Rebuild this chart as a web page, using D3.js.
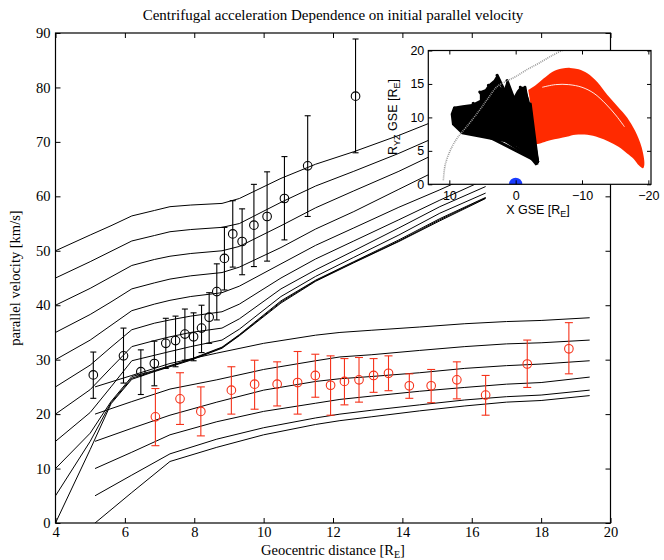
<!DOCTYPE html>
<meta charset="utf-8">
<style>
body { margin: 0; background: #fff; }
svg { display: block; }
.main .tick text { font-family: "Liberation Serif", serif; font-size: 14.5px; fill: #000; }
.main .tick line, .inset .tick line { stroke: #000; }
.inset .tick text { font-family: "Liberation Sans", sans-serif; font-size: 12.5px; fill: #000; }
.domain { display: none; }
.title, .label { font-family: "Liberation Serif", serif; font-size: 15px; fill: #000; }
.label { font-size: 14.5px; }
.ilabel { font-family: "Liberation Sans", sans-serif; font-size: 12.5px; fill: #000; }
</style>
<svg width="664" height="560"></svg>
<script src="https://d3js.org/d3.v7.min.js"></script>
<script>
// model curves, upper family (start 0..50 km/s at 4 RE), shared x grid
var gridX = [4, 5, 5.6, 6.2, 6.85, 7.3, 7.9, 8.8, 9.3, 10.5, 11.5, 12.6, 13.9, 15.08, 16.4];
var upper0  = [0, 13.5, 21.9, 26.4, 27.8, 28.7, 29.9, 32.1, 34.4, 40.4, 44.4, 47.8, 51.7, 55.5, 59.6];
var upper5  = [5, 15.0, 22.1, 26.6, 27.9, 28.8, 30.0, 32.2, 34.5, 40.6, 44.5, 47.9, 51.8, 55.7, 59.7];
var upper10 = [10, 16.5, 22.3, 26.9, 28.0, 28.9, 30.1, 32.3, 34.6, 40.8, 44.6, 48.0, 52.0, 55.9, 59.8];
var upper15 = [15, 20.3, 25.0, 29.8, 30.8, 31.5, 32.4, 33.6, 35.6, 41.6, 45.3, 48.8, 52.9, 56.9, 60.6];
var upper20 = [20, 24.5, 28.5, 32.4, 33.5, 34.2, 35.0, 35.8, 37.5, 43.0, 46.5, 50.0, 54.2, 58.1, 61.8];
var upper25 = [25, 29.0, 32.3, 35.5, 36.7, 37.3, 38.0, 38.8, 40.2, 45.0, 48.5, 51.8, 55.7, 59.3, 63.1];
var upper30 = [30, 33.6, 36.3, 39.0, 40.2, 40.9, 41.6, 42.3, 43.5, 47.6, 51.0, 54.2, 58.0, 61.2, 65.0];
var upper35 = [35, 38.3, 40.6, 43.0, 44.1, 44.8, 45.4, 46.0, 47.0, 50.6, 54.0, 57.2, 61.3, 65.0, 68.8];
var upper40 = [40, 43.1, 45.2, 47.3, 48.4, 49.0, 49.5, 50.0, 50.8, 54.6, 57.9, 61.0, 64.6, 68.2, 72.0];
var upper45 = [45, 48.0, 49.9, 51.8, 52.8, 53.5, 53.9, 54.3, 55.0, 58.9, 61.9, 64.6, 67.9, 71.2, 75.0];
var upper50 = [50, 52.9, 54.6, 56.4, 57.4, 58.1, 58.4, 58.7, 59.6, 63.3, 65.9, 68.2, 71.2, 74.2, 78.0];

// model curves, lower family (start 0..25 km/s at 5.14 RE)
var lowerX  = [5.14, 6.2, 7.3, 8.65, 10.0, 11.5, 12.2, 13.1, 14.5, 15.8, 17.0, 18.0, 19.4];
var lower0  = [0, 5.6, 11.3, 13.9, 16.2, 18.1, 18.8, 19.5, 20.6, 21.5, 22.2, 22.5, 23.4];
var lower5  = [5, 8.8, 12.7, 15.4, 17.5, 19.3, 20.0, 20.7, 21.7, 22.6, 23.2, 23.5, 24.4];
var lower10 = [10, 13.0, 16.2, 18.6, 20.5, 22.0, 22.7, 23.3, 24.2, 24.9, 25.5, 25.8, 26.8];
var lower15 = [15, 17.4, 19.8, 22.2, 24.4, 26.0, 26.5, 26.9, 27.6, 28.4, 28.9, 29.2, 29.8];
var lower20 = [20, 22.3, 24.6, 26.3, 28.2, 29.8, 30.5, 30.9, 31.7, 32.4, 32.9, 33.1, 33.6];
var lower25 = [25, 27.1, 29.3, 31.2, 33.0, 34.5, 35.0, 35.4, 36.0, 36.6, 37.0, 37.2, 37.7];

// observations, black (with error bars)
var blackX  = [5.09, 5.96, 6.46, 6.85, 7.18, 7.46, 7.73, 7.98, 8.21, 8.43, 8.65, 8.87, 9.11, 9.38, 9.72, 10.1, 10.6, 11.27, 12.65];
var blackY  = [27.2, 30.7, 27.8, 29.3, 33.0, 33.5, 34.7, 34.2, 35.8, 37.8, 42.5, 48.6, 53.1, 51.7, 54.7, 56.3, 59.6, 65.6, 78.4];
var blackLo = [22.9, 25.7, 23.6, 25.2, 28.4, 28.7, 29.9, 29.8, 31.3, 33.0, 37.3, 42.8, 47.0, 45.6, 47.1, 48.1, 52.0, 56.3, 68.0];
var blackHi = [31.4, 35.8, 31.8, 33.4, 37.6, 38.0, 39.3, 38.6, 40.0, 42.3, 47.6, 54.3, 59.2, 57.7, 62.2, 64.5, 67.3, 74.8, 88.9];

// observations, red
var redX  = [6.88, 7.59, 8.19, 9.07, 9.74, 10.39, 10.98, 11.49, 11.93, 12.33, 12.75, 13.17, 13.6, 14.2, 14.83, 15.57, 16.4, 17.6, 18.8];
var redY  = [19.5, 22.8, 20.5, 24.4, 25.5, 25.5, 25.8, 27.1, 25.3, 26.0, 26.3, 27.1, 27.5, 25.2, 25.2, 26.3, 23.5, 29.2, 32.0];
var redLo = [14.2, 18.1, 16.0, 20.0, 20.9, 21.5, 20.0, 23.1, 19.8, 21.7, 22.2, 24.0, 24.3, 22.9, 22.1, 22.8, 19.8, 24.9, 27.4];
var redHi = [24.7, 27.6, 25.0, 28.7, 29.9, 29.6, 31.5, 31.0, 30.7, 30.2, 30.4, 30.2, 30.7, 27.4, 28.2, 29.6, 27.1, 33.6, 36.8];

var xTicks = [4, 6, 8, 10, 12, 14, 16, 18, 20];
var yTicks = [0, 10, 20, 30, 40, 50, 60, 70, 80, 90];

// inset: X GSE vs R_YZ GSE
var insetXTicks = [10, 0, -10, -20];
var insetYTicks = [0, 5, 10, 15, 20];
var boundary = [[10.9, 0.6], [10.6, 3.0], [9.6, 5.6], [8.6, 7.2], [7.4, 8.6], [5.5, 11.0], [4.2, 12.8], [2.8, 14.6], [1.2, 15.5], [0, 16.1], [-1.8, 17.2], [-3.5, 18.1], [-5.4, 19.2], [-7.2, 20.1]];
var blackFan = [[9.4, 11.6], [8.0, 11.8], [6.6, 12.0], [5.4, 12.6], [5.4, 13.9], [4.6, 14.2], [4.1, 14.9], [3.3, 15.6], [2.8, 16.4], [2.4, 15.8], [2.3, 14.4], [1.7, 14.4], [1.3, 15.6], [0.8, 14.5], [0.3, 13.1], [-0.2, 14.0], [-0.7, 14.6], [-1.4, 14.6], [-2.0, 12.8], [-2.45, 11.1], [-2.7, 8.1], [-3.1, 5.0], [-3.45, 3.0], [-3.0, 2.8], [-2.0, 4.0], [-0.2, 5.6], [1.5, 6.3], [3.35, 6.6], [5.5, 7.0], [8.1, 7.5], [9.6, 8.9], [9.8, 10.5]];
var fanTips = [[9.2, 11.4], [8.6, 9.4], [6.4, 12.1], [5.4, 13.8], [4.1, 14.8], [2.8, 16.3], [2.3, 14.3], [1.3, 15.5], [0.3, 13.0], [-0.7, 14.5], [-1.4, 14.5], [-2.2, 12.0]];
var fanBase = [-3.3, 3.4];
var redRegion = [[-1.9, 14.1], [-3.0, 14.8], [-4.2, 15.8], [-5.5, 16.8], [-7.0, 17.3], [-8.2, 17.4], [-9.5, 17.2], [-10.8, 16.6], [-12.3, 15.3], [-13.8, 13.4], [-15.4, 11.6], [-16.8, 10.0], [-18.0, 8.0], [-19.0, 5.5], [-19.4, 3.0], [-19.2, 2.4], [-18.6, 2.8], [-17.8, 3.8], [-16.8, 4.6], [-15.5, 5.6], [-14.0, 6.4], [-12.5, 7.0], [-10.8, 7.4], [-9.0, 7.4], [-7.7, 7.1], [-5.2, 6.6], [-2.7, 6.1], [-2.5, 9.0], [-2.45, 10.6]];
var redGap = [[-4.0, 14.5], [-6.0, 14.9], [-8.0, 14.9], [-10.0, 14.5], [-11.8, 13.6], [-13.6, 12.0], [-15.2, 10.2], [-16.4, 8.6]];

var svg = d3.select("svg");
var x = d3.scaleLinear().domain([4, 20]).range([55.5, 610.5]);
var y = d3.scaleLinear().domain([0, 90]).range([523, 33]);

svg.append("clipPath").attr("id", "plotclip").append("rect")
  .attr("x", x(4)).attr("y", y(90)).attr("width", x(20) - x(4)).attr("height", y(0) - y(90));

var line = d3.line().x(d => x(d[0])).y(d => y(d[1]));
var curves = svg.append("g").attr("clip-path", "url(#plotclip)")
  .attr("fill", "none").attr("stroke", "#000").attr("stroke-width", 1);

[upper0, upper5, upper10, upper15, upper20, upper25, upper30, upper35, upper40, upper45, upper50].forEach(function(v) {
  curves.append("path").attr("d", line(gridX.map((g, i) => [g, v[i]])));
});
[lower0, lower5, lower10, lower15, lower20, lower25].forEach(function(v) {
  curves.append("path").attr("d", line(lowerX.map((g, i) => [g, v[i]])));
});

function errorBars(xs, ys, lo, hi, color, cap) {
  var g = svg.append("g").attr("stroke", color).attr("fill", "none").attr("stroke-width", 1.1);
  xs.forEach(function(xv, i) {
    var px = x(xv);
    g.append("line").attr("x1", px).attr("x2", px).attr("y1", y(lo[i])).attr("y2", y(hi[i]));
    g.append("line").attr("x1", px - cap).attr("x2", px + cap).attr("y1", y(lo[i])).attr("y2", y(lo[i]));
    g.append("line").attr("x1", px - cap).attr("x2", px + cap).attr("y1", y(hi[i])).attr("y2", y(hi[i]));
    g.append("circle").attr("cx", px).attr("cy", y(ys[i])).attr("r", 4.3);
  });
}
errorBars(blackX, blackY, blackLo, blackHi, "#000", 3);
errorBars(redX, redY, redLo, redHi, "#f5321a", 4);

// axes with inward ticks on all four sides
var axes = svg.append("g").attr("class", "main");
axes.append("g").attr("transform", "translate(0," + y(0) + ")")
  .call(d3.axisBottom(x).tickValues(xTicks).tickSize(-5).tickSizeOuter(0).tickPadding(4));
axes.append("g").attr("transform", "translate(0," + y(90) + ")")
  .call(d3.axisTop(x).tickValues(xTicks).tickSize(-5).tickSizeOuter(0).tickFormat(""));
axes.append("g").attr("transform", "translate(" + x(4) + ",0)")
  .call(d3.axisLeft(y).tickValues(yTicks).tickSize(-5).tickSizeOuter(0).tickPadding(5));
axes.append("g").attr("transform", "translate(" + x(20) + ",0)")
  .call(d3.axisRight(y).tickValues(yTicks).tickSize(-5).tickSizeOuter(0).tickFormat(""));
svg.append("rect").attr("x", x(4)).attr("y", y(90)).attr("width", x(20) - x(4)).attr("height", y(0) - y(90))
  .attr("fill", "none").attr("stroke", "#000").attr("stroke-width", 1.2);

svg.append("text").attr("class", "title").attr("x", 333).attr("y", 20).attr("text-anchor", "middle")
  .text("Centrifugal acceleration Dependence on initial parallel velocity");
svg.append("text").attr("class", "label").attr("transform", "translate(20,278) rotate(-90)")
  .attr("text-anchor", "middle").text("parallel velocity [km/s]");
var xl = svg.append("text").attr("class", "label").attr("x", 333).attr("y", 555).attr("text-anchor", "middle");
xl.append("tspan").text("Geocentric distance [R");
xl.append("tspan").attr("font-size", "10px").attr("dy", 3).text("E");
xl.append("tspan").attr("dy", -3).text("]");

// ---- inset ----
var ix = d3.scaleLinear().domain([13.17, -20.4]).range([428.3, 651]);
var iy = d3.scaleLinear().domain([0, 20]).range([184.3, 50.5]);
var inset = svg.append("g").attr("class", "inset");
inset.append("rect").attr("x", ix.range()[0]).attr("y", iy(20)).attr("width", ix.range()[1] - ix.range()[0])
  .attr("height", iy(0) - iy(20)).attr("fill", "#fff");
inset.append("clipPath").attr("id", "insetclip").append("rect")
  .attr("x", ix.range()[0]).attr("y", iy(20)).attr("width", ix.range()[1] - ix.range()[0]).attr("height", iy(0) - iy(20));
var ic = inset.append("g").attr("clip-path", "url(#insetclip)");
var iline = d3.line().x(d => ix(d[0])).y(d => iy(d[1]));
var ismooth = d3.line().curve(d3.curveCatmullRom).x(d => ix(d[0])).y(d => iy(d[1]));

ic.append("path").attr("d", ismooth(redRegion) + "Z").attr("fill", "#ff2a00");
ic.append("path").attr("d", ismooth(redGap)).attr("fill", "none").attr("stroke", "#fff").attr("stroke-width", 0.9);
ic.append("path").attr("d", iline(blackFan) + "Z").attr("fill", "#000");
fanTips.forEach(function(t) {
  ic.append("line").attr("x1", ix(fanBase[0])).attr("y1", iy(fanBase[1])).attr("x2", ix(t[0])).attr("y2", iy(t[1]))
    .attr("stroke", "#000").attr("stroke-width", 3).attr("stroke-linecap", "round");
});
ic.append("path").attr("d", ismooth(boundary))
  .attr("fill", "none").attr("stroke", "#9a9a9a").attr("stroke-width", 1.6).attr("stroke-dasharray", "1,1");
ic.append("circle").attr("cx", ix(0)).attr("cy", iy(0)).attr("r", ix(0) - ix(1)).attr("fill", "#1a3cff");

inset.append("g").attr("transform", "translate(0," + iy(0) + ")")
  .call(d3.axisBottom(ix).tickValues(insetXTicks).tickSize(-4).tickSizeOuter(0).tickPadding(7));
inset.append("g").attr("transform", "translate(0," + iy(20) + ")")
  .call(d3.axisTop(ix).tickValues(insetXTicks).tickSize(-4).tickSizeOuter(0).tickFormat(""));
inset.append("g").attr("transform", "translate(" + ix.range()[0] + ",0)")
  .call(d3.axisLeft(iy).tickValues(insetYTicks).tickSize(-4).tickSizeOuter(0).tickPadding(4));
inset.append("g").attr("transform", "translate(" + ix.range()[1] + ",0)")
  .call(d3.axisRight(iy).tickValues(insetYTicks).tickSize(-4).tickSizeOuter(0).tickFormat(""));
inset.append("rect").attr("x", ix.range()[0]).attr("y", iy(20)).attr("width", ix.range()[1] - ix.range()[0])
  .attr("height", iy(0) - iy(20)).attr("fill", "none").attr("stroke", "#000").attr("stroke-width", 1.2);

var ixl = inset.append("text").attr("class", "ilabel").attr("x", 538).attr("y", 214).attr("text-anchor", "middle");
ixl.append("tspan").text("X GSE [R");
ixl.append("tspan").attr("font-size", "9px").attr("dy", 3).text("E");
ixl.append("tspan").attr("dy", -3).text("]");
var iyl = inset.append("text").attr("class", "ilabel").attr("transform", "translate(397,117) rotate(-90)").attr("text-anchor", "middle");
iyl.append("tspan").text("R");
iyl.append("tspan").attr("font-size", "9px").attr("dy", 3).text("YZ");
iyl.append("tspan").attr("dy", -3).text(" GSE [R");
iyl.append("tspan").attr("font-size", "9px").attr("dy", 3).text("E");
iyl.append("tspan").attr("dy", -3).text("]");
</script>
